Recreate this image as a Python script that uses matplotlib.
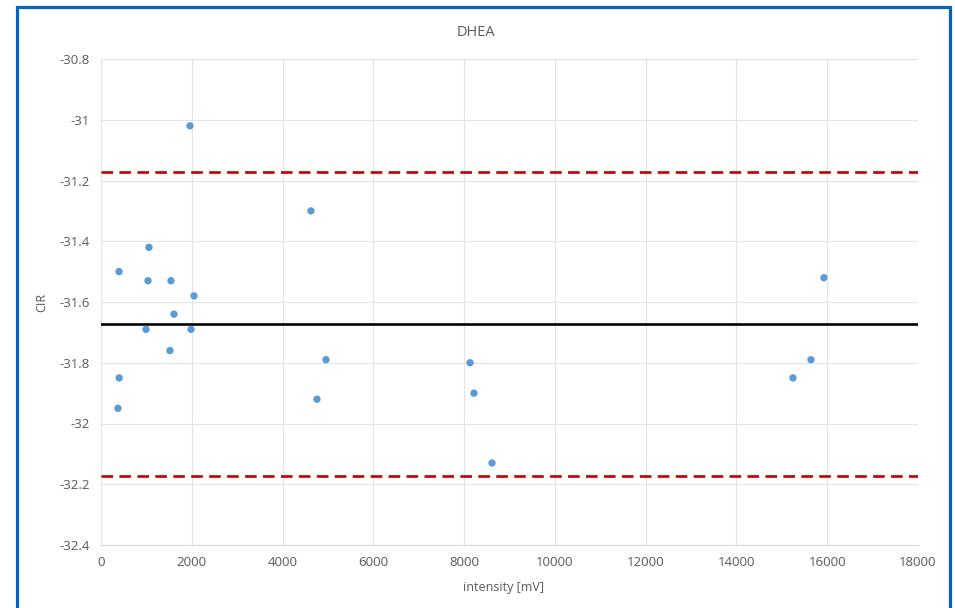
import matplotlib
matplotlib.use("Agg")
import matplotlib.pyplot as plt
from matplotlib.patches import Rectangle

# data
intensity = [397, 400, 375, 1057, 1035, 991, 1542, 1520, 1608, 2049, 1983, 1960,
             4626, 4957, 4758, 8129, 8217, 8614, 15245, 15642, 15928]
cir = [-31.50, -31.85, -31.95, -31.42, -31.53, -31.69, -31.53, -31.76, -31.64, -31.58,
       -31.69, -31.02, -31.30, -31.79, -31.92, -31.80, -31.90, -32.13, -31.85, -31.79,
       -31.52]
mean_cir = -31.673
limit = 0.5

xticks = list(range(0, 18001, 2000))
yticks = [-32.4, -32.2, -32.0, -31.8, -31.6, -31.4, -31.2, -31.0, -30.8]
ytick_labels = ["-32.4", "-32.2", "-32", "-31.8", "-31.6", "-31.4", "-31.2", "-31", "-30.8"]

plt.rcParams['font.family'] = ['Open Sans', 'DejaVu Sans']
txt = '#595959'

fig = plt.figure(figsize=(9.55, 6.08), dpi=100)
ax = fig.add_axes([101/955, 1 - 545/608, 817/955, 486/608])

ax.axhline(mean_cir, color='black', lw=1.9, zorder=2)
for v in (mean_cir + limit, mean_cir - limit):
    ax.axhline(v, color='#C00000', lw=1.9, dashes=(4.4, 2.4), zorder=2)
ax.scatter(intensity, cir, s=28, color='#5B9BD5', edgecolors='none', zorder=3)

ax.set_xlim(0, 18000)
ax.set_ylim(-32.4, -30.8)
ax.set_xticks(xticks)
ax.set_yticks(yticks)
ax.set_yticklabels(ytick_labels)
ax.grid(True, color='#E3E3E3', lw=0.8)
ax.set_axisbelow(True)
for s in ('top', 'right', 'left'):
    ax.spines[s].set_visible(False)
ax.spines['bottom'].set_color('#D9D9D9')
ax.tick_params(length=0, labelsize=9.5, colors=txt, pad=8)

fig.text(476/955, 1 - 32/608, 'DHEA', ha='center', va='center', fontsize=10.5, color=txt)
fig.text(503/955, 1 - 587/608, 'intensity [mV]', ha='center', va='center', fontsize=9, color=txt)
fig.text(42/955, 1 - 302/608, 'CIR', ha='center', va='center', rotation=90, fontsize=9, color=txt)

fig.patches.append(Rectangle((17/955, -0.05), 933/955, 1.05 - 7/608, transform=fig.transFigure,
                             fill=False, edgecolor='#0563C1', lw=2.3))

fig.savefig('out.png', dpi=100)
